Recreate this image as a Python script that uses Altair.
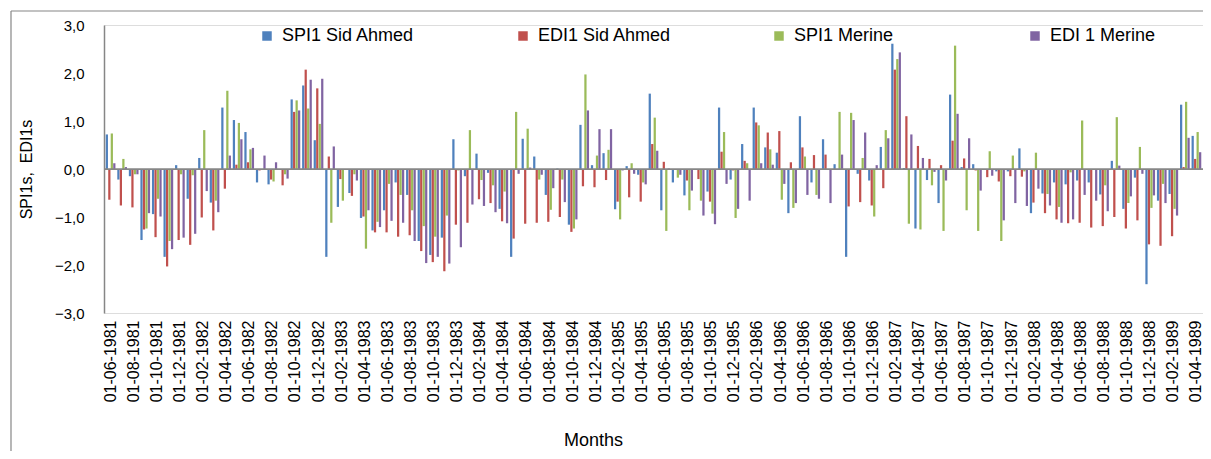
import altair as alt
import pandas as pd

# ---- categories (monthly, 01-06-1981 .. 01-04-1989) ----
start_year, start_month, n_months = 1981, 6, 95
months = []
for k in range(n_months):
    mm = (start_month - 1 + k) % 12 + 1
    yy = start_year + (start_month - 1 + k) // 12
    months.append(f"01-{mm:02d}-{yy}")
tick_labels = months[::2]

series_names = ["SPI1 Sid Ahmed", "EDI1 Sid Ahmed", "SPI1 Merine", "EDI 1 Merine"]
series_colors = ["#4F81BD", "#C0504D", "#9BBB59", "#8064A2"]

spi1_sid_ahmed = [
    0.72, -0.22, -0.15, -1.48, -0.94, -1.83, 0.08, -0.62, 0.23, -0.70, 1.28, 1.02,
    0.77, -0.28, -0.32, -0.02, 1.45, 1.74, 0.60, -1.83, -0.79, -0.50, -1.02, -1.28,
    -0.86, -0.28, -0.54, -1.50, -1.79, -1.43, 0.62, -0.15, 0.32, -0.08, -0.83, -1.83,
    0.63, 0.26, -0.54, 0.01, -1.16, 0.92, 0.08, 0.33, -0.84, 0.06, -0.12, 1.57,
    -0.86, -0.28, -0.55, -0.02, -0.47, 1.28, -0.22, 0.52, 1.28, 0.45, 0.34, -0.92,
    1.10, -0.28, 0.62, 0.10, -1.83, -0.10, -0.24, 0.46, 2.61, 0.02, -1.24, -0.23,
    -0.71, 1.55, 0.04, 0.10, -0.02, -0.05, -0.05, 0.43, -0.92, -0.51, -0.28, -0.32,
    -0.24, -0.28, -0.53, 0.17, -0.83, -0.18, -2.40, -0.66, -0.52, 1.34, 0.69,
]
edi1_sid_ahmed = [
    -0.64, -0.76, -0.80, -1.26, -1.42, -2.03, -1.48, -1.58, -1.01, -1.28, -0.41, 0.09,
    0.14, -0.03, -0.22, -0.34, 1.19, 2.07, 1.68, 0.26, -0.21, -0.56, -0.99, -1.32,
    -1.32, -1.41, -1.38, -1.71, -1.94, -2.13, -1.16, -1.12, -0.63, -0.71, -1.09, -1.45,
    -1.14, -1.12, -1.10, -1.00, -1.31, -0.36, -0.38, -0.23, -0.68, -0.59, -0.68, 0.52,
    0.15, -0.02, -0.24, -0.21, -0.68, 0.36, -0.03, 0.17, 0.97, 0.76, 0.79, 0.14,
    0.45, 0.29, 0.30, -0.02, -0.78, -0.69, -0.76, -0.40, 2.07, 1.10, 0.48, 0.21,
    0.08, 0.59, 0.22, -0.03, -0.17, -0.26, -0.15, -0.16, -0.70, -0.92, -1.05, -1.13,
    -1.12, -1.22, -1.19, -1.00, -1.24, -1.07, -1.57, -1.60, -1.40, 0.04, 0.21,
]
spi1_merine = [
    0.74, 0.21, -0.11, -1.24, -0.62, -1.50, -0.11, -0.13, 0.81, -0.66, 1.63, 0.96,
    0.41, -0.02, -0.26, -0.11, 1.43, 1.26, 0.94, -1.12, -0.66, -0.11, -1.66, -1.10,
    -0.31, -0.54, -0.86, -1.19, -1.41, -0.97, -0.03, 0.81, -0.23, -0.34, -0.47, 1.19,
    0.84, -0.22, -0.85, -0.22, -1.24, 1.97, 0.28, 0.40, -1.05, 0.12, -0.28, 1.07,
    -1.29, -0.18, -0.86, -0.66, -0.93, 0.77, -1.02, 0.12, 0.91, 0.41, -0.64, -0.81,
    0.26, -0.54, -0.02, 1.19, 1.17, 0.23, -0.99, 0.81, 2.29, -1.14, -1.26, -0.34,
    -1.29, 2.57, -0.86, -1.29, 0.37, -1.50, 0.28, -0.05, 0.34, -0.52, -0.79, -0.07,
    1.01, -0.02, -0.34, 1.08, -0.71, 0.46, -0.81, -0.31, -0.83, 1.40, 0.77,
]
edi1_merine = [
    0.12, 0.04, -0.11, -0.92, -0.99, -1.67, -1.43, -1.35, -0.46, -0.90, 0.28, 0.62,
    0.44, 0.28, 0.14, -0.20, 1.22, 1.86, 1.88, 0.47, -0.02, -0.24, -0.86, -1.21,
    -1.08, -1.12, -1.50, -1.96, -1.83, -1.97, -1.63, -0.74, -0.77, -0.90, -1.13, -0.10,
    0.03, -0.12, -0.40, -0.69, -1.05, 1.22, 0.83, 0.83, -0.03, -0.10, -0.32, 0.38,
    0.01, -0.12, -0.45, -0.97, -1.15, -0.31, -0.83, -0.66, 0.12, 0.09, -0.31, -0.71,
    -0.54, -0.62, -0.71, 0.30, 1.02, 0.76, 0.08, 0.64, 2.43, 0.72, 0.23, -0.06,
    -0.24, 1.15, 0.64, -0.45, -0.14, -1.07, -0.71, -0.77, -0.41, -0.76, -1.12, -1.05,
    -0.54, -0.66, -0.88, 0.07, -0.57, -0.10, -0.55, -0.71, -0.97, 0.65, 0.35,
]

y_ticks = [-3, -2, -1, 0, 1, 2, 3]

rows = []
for name, vals in zip(series_names,
                      [spi1_sid_ahmed, edi1_sid_ahmed, spi1_merine, edi1_merine]):
    for m, v in zip(months, vals):
        rows.append({"month": m, "series": name, "value": v})
df = pd.DataFrame(rows)

FONT = "Liberation Sans"
GRAY = "#868686"
W, H = 1099, 288

bars = alt.Chart(df).mark_bar().encode(
    x=alt.X("month:N", sort=months,
            scale=alt.Scale(paddingInner=0.16, paddingOuter=0.15),
            axis=alt.Axis(values=tick_labels, labelAngle=-90, labelFontSize=16,
                          labelFont=FONT, labelColor="#000000", labelPadding=7,
                          ticks=False, domain=False, grid=False,
                          title="Months", titleFont=FONT, titleFontSize=18,
                          titleFontWeight="normal", titleColor="#000000",
                          titleX=489, titleY=132, titleAlign="center",
                          titleBaseline="alphabetic", labelOverlap=False)),
    xOffset=alt.XOffset("series:N", sort=series_names,
                        scale=alt.Scale(paddingInner=0.1)),
    y=alt.Y("value:Q",
            scale=alt.Scale(domain=[-3, 3], nice=False, zero=False),
            axis=alt.Axis(values=y_ticks, grid=False, ticks=False,
                          labelExpr="replace(format(datum.value, '.1f'), '.', ',')",
                          labelFontSize=15, labelFont=FONT, labelColor="#000000",
                          labelPadding=20, domainColor=GRAY, domainWidth=1.5,
                          title="SPI1s,\u00a0 EDI1s", titleFont=FONT, titleFontSize=16,
                          titleFontWeight="normal", titleColor="#000000",
                          titleX=-73, titleY=H / 2, titleAlign="center",
                          titleBaseline="alphabetic", titleAngle=-90)),
    color=alt.Color("series:N", sort=series_names,
                    scale=alt.Scale(domain=series_names, range=series_colors),
                    legend=alt.Legend(orient="none", legendX=154, legendY=2,
                                      direction="horizontal", columns=4,
                                      title=None, symbolType="square",
                                      symbolSize=90, symbolStrokeWidth=0,
                                      labelFontSize=18, labelFont=FONT,
                                      labelColor="#000000", labelOffset=6,
                                      gridAlign="all", columnPadding=98,
                                      padding=0, labelLimit=300)),
)

zero_line = alt.Chart(pd.DataFrame({"v": [0]})).mark_rule(
    color=GRAY, strokeWidth=1.75).encode(y=alt.Y("v:Q"))

frame_left = alt.Chart(pd.DataFrame({"a": [0]})).mark_rule(
    color=GRAY, strokeWidth=1.2).encode(
    x=alt.value(-93), y=alt.value(-14), y2=alt.value(H + 160))
frame_top = alt.Chart(pd.DataFrame({"a": [0]})).mark_rule(
    color=GRAY, strokeWidth=1.2).encode(
    x=alt.value(-93), x2=alt.value(W + 20), y=alt.value(-14))

chart = alt.layer(bars, zero_line, frame_left, frame_top).properties(
    width=W, height=H,
    padding={"left": 96, "top": 17, "right": 0, "bottom": 138},
    autosize=alt.AutoSizeParams(type="none"),
).configure_view(strokeWidth=0).configure(background="white")

chart.save("out.html", embed_options={"renderer": "svg", "actions": False})
